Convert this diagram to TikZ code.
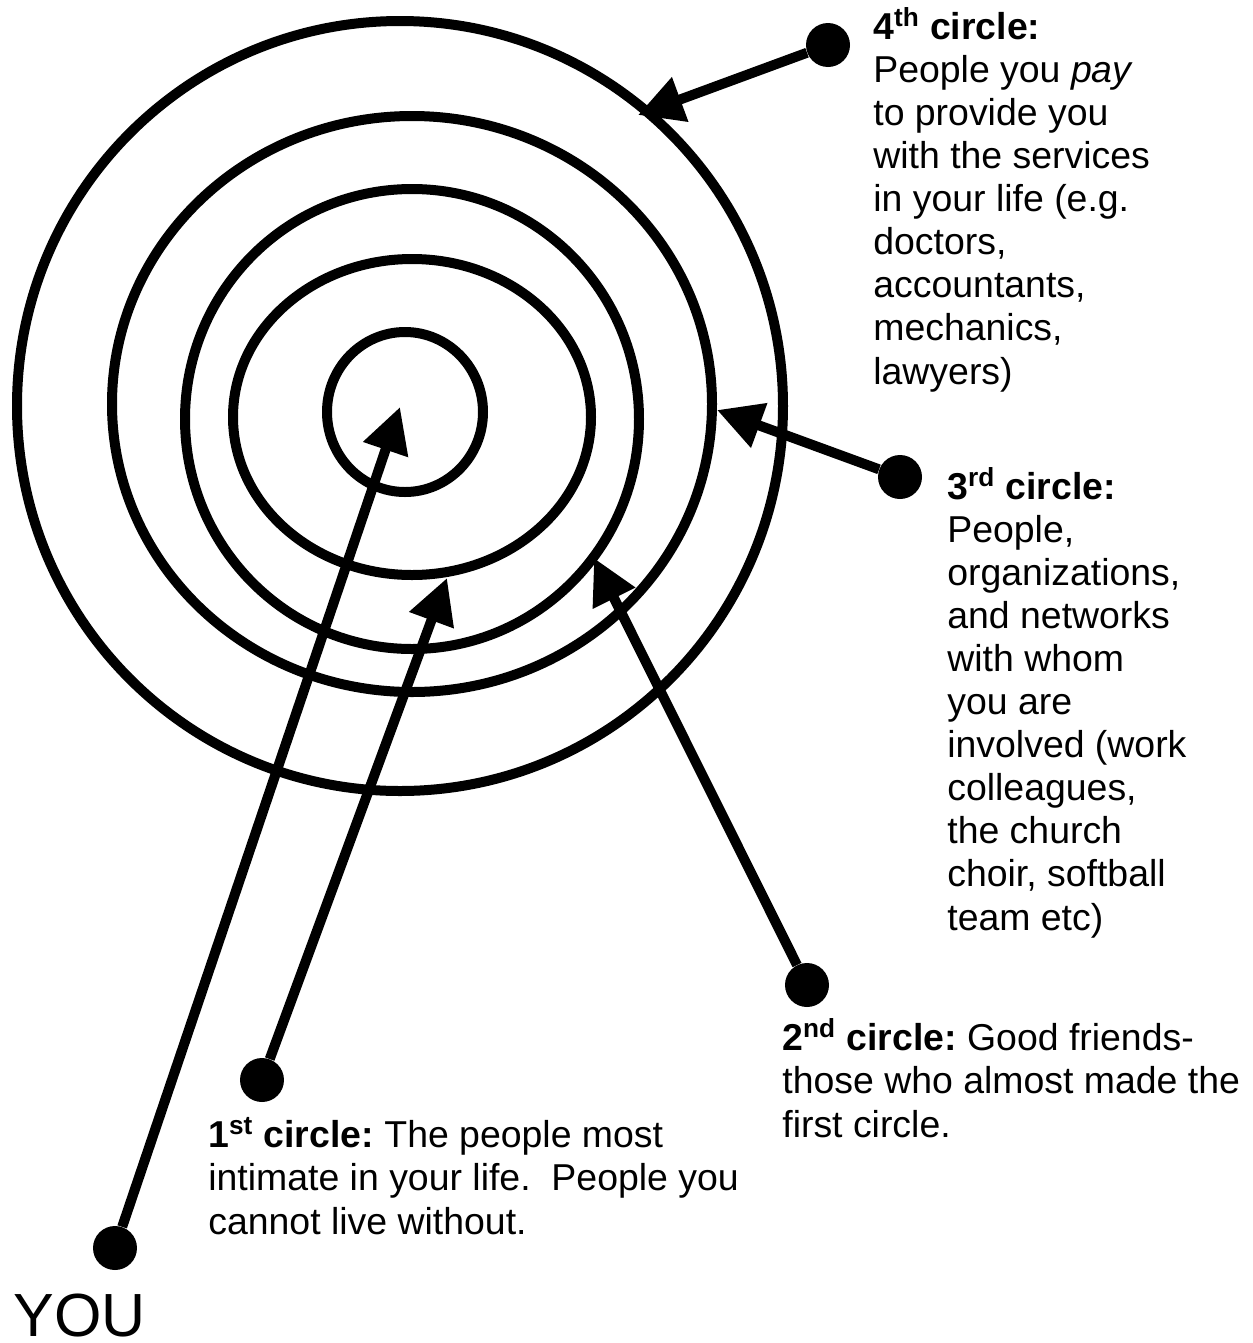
\documentclass[tikz,border=0pt]{standalone}
\usepackage{fontspec}
\setmainfont{Liberation Sans}
\usetikzlibrary{arrows.meta}

\tikzset{
  ring/.style={line width=0.2cm},
  dot/.style={circle,fill=black,inner sep=0pt,minimum size=0.88cm},
  pointer/.style={line width=0.2cm,-{Triangle[length=0.9cm,width=0.9cm]}},
  note/.style={align=left,inner sep=0pt,anchor=base west,
    font=\fontsize{21.3pt}{24.5pt}\selectfont\frenchspacing}
}

\begin{document}
\begin{tikzpicture}[x=0.02cm,y=-0.02cm]
\useasboundingbox (0,0) rectangle (1252,1343);
\draw[ring] (405,412) ellipse [x radius=78,y radius=80];
\draw[ring] (412,417) ellipse [x radius=179,y radius=158];
\draw[ring] (412,419) ellipse [x radius=227,y radius=230];
\draw[ring] (412,404) ellipse [x radius=300,y radius=288];
\draw[ring] (400,406) ellipse [x radius=383,y radius=385];

\node[dot] (Dyou) at (115,1248) {};
\node[dot] (D1) at (262,1080) {};
\node[dot] (D2) at (807,985) {};
\node[dot] (D3) at (900,477) {};
\node[dot] (D4) at (828,45) {};

\coordinate (Tyou) at (400,407);
\coordinate (T1) at (447,578);
\coordinate (T2) at (594,558);
\coordinate (T3) at (717,410);
\coordinate (T4) at (638,115);

\draw[pointer] (Dyou)--(Tyou);
\draw[pointer] (D1)--(T1);
\draw[pointer] (D2)--(T2);
\draw[pointer] (D3)--(T3);
\draw[pointer] (D4)--(T4);

% base anchor sits on the last line
\node[note] (L4) at (873,384) {\textbf{4\textsuperscript{th} circle:}\\
People you \textit{pay}\\ to provide you\\ with the services\\
in your life (e.g.\\ doctors,\\ accountants,\\ mechanics,\\ lawyers)};
\node[note] (L3) at (947,930) {\textbf{3\textsuperscript{rd} circle:}\\
People,\\ organizations,\\ and networks\\ with whom\\ you are\\
involved (work\\ colleagues,\\ the church\\ choir, softball\\ team etc)};
\node[note] (L2) at (782,1137) {\textbf{2\textsuperscript{nd} circle:} Good friends-\\
those who almost made the\\ first circle.};
\node[note] (L1) at (208,1234) {\textbf{1\textsuperscript{st} circle:} The people most\\
intimate in your life.\ \ People you\\ cannot live without.};
\node[anchor=base west,inner sep=0pt,font=\fontsize{34.7pt}{40pt}\selectfont] (You) at (13,1336) {YOU};
\end{tikzpicture}
\end{document}
